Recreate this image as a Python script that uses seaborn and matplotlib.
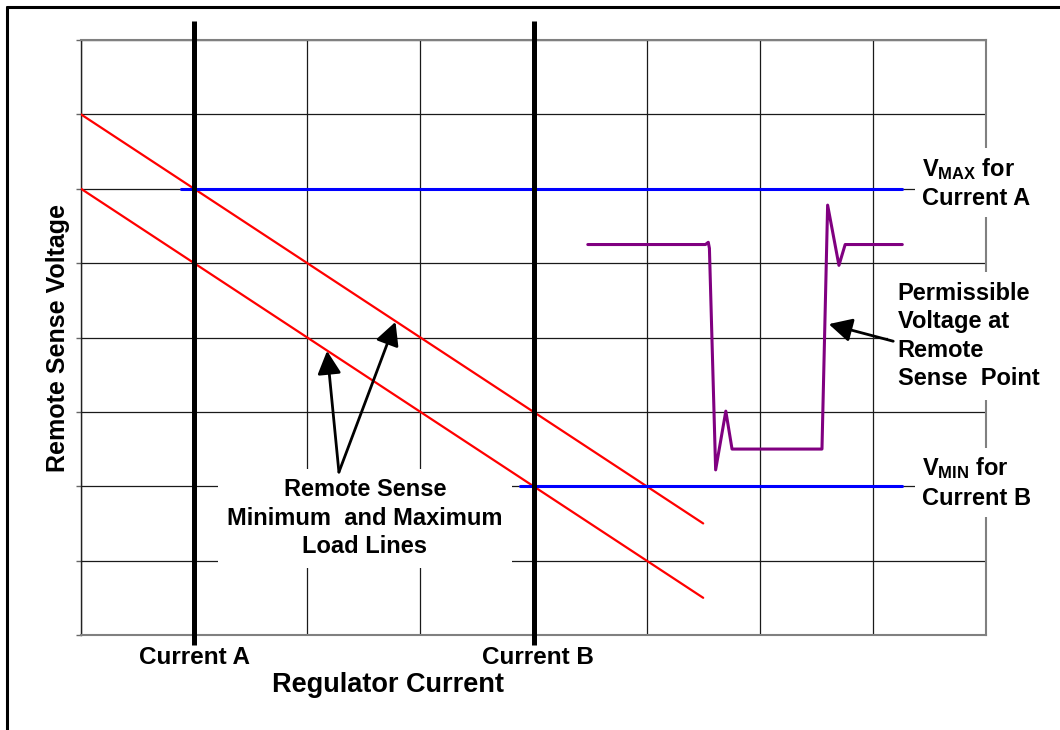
import matplotlib.pyplot as plt
import pandas as pd
import seaborn as sns
from matplotlib.lines import Line2D

sns.set_theme(style="white")
plt.rcParams["font.family"] = ["Liberation Sans", "DejaVu Sans"]
plt.rcParams["font.weight"] = "bold"
plt.rcParams["text.color"] = "black"
plt.rcParams["mathtext.fontset"] = "custom"
plt.rcParams["mathtext.rm"] = "Liberation Sans:bold"
plt.rcParams["mathtext.it"] = "Liberation Sans:bold"
plt.rcParams["mathtext.bf"] = "Liberation Sans:bold"

# grid units: x = regulator current, y = remote sense voltage (0..8 each)
grid_ticks = list(range(9))

# min / max load lines
load_x = [0.0, 5.5]
load_max_y = [7.0, 1.5]
load_min_y = [6.0, 0.5]

# the two operating currents
current_a = 1.0
current_b = 4.0
marker_span = [-0.13, 8.25]

# voltage limits
vmax_x = [0.88, 7.26]
vmax_y = 6.0
vmin_x = [3.88, 7.26]
vmin_y = 2.0

# permissible voltage trace at the remote sense point
trace_x = [4.48, 5.52, 5.545, 5.555, 5.61, 5.70, 5.755, 6.55, 6.60, 6.70, 6.755, 7.26]
trace_y = [5.25, 5.25, 5.28, 5.20, 2.22, 3.01, 2.50, 2.50, 5.78, 4.97, 5.25, 5.25]

loads = pd.DataFrame({
    "x": load_x * 2,
    "y": load_max_y + load_min_y,
    "line": ["max"] * 2 + ["min"] * 2,
})
trace = pd.DataFrame({"x": trace_x, "y": trace_y})

fig = plt.figure(figsize=(10.6, 7.3), dpi=100)
ax = fig.add_axes([81 / 1060, 1 - 635 / 730, 905 / 1060, 595 / 730])
ax.set_xlim(0, 8)
ax.set_ylim(0, 8)
ax.set_xticks(grid_ticks)
ax.set_yticks(grid_ticks)
ax.set_xticklabels([])
ax.set_yticklabels([])
ax.grid(True, color="#1a1a1a", linewidth=0.9, zorder=0)
ax.set_axisbelow(True)
ax.tick_params(axis="x", length=0)
ax.tick_params(axis="y", length=3.6, width=1, color="#666666", direction="out", left=True)
for side, sp in ax.spines.items():
    sp.set_color("#808080")
    sp.set_linewidth(1.5)
ax.spines["left"].set_color("#222222")
ax.spines["left"].set_linewidth(1.0)

sns.lineplot(data=loads, x="x", y="y", units="line", estimator=None,
             color="#ff0000", linewidth=1.6, ax=ax, zorder=4)
sns.lineplot(data=trace, x="x", y="y", sort=False, estimator=None,
             color="#800080", linewidth=2.2, ax=ax, zorder=4)
ax.plot(vmax_x, [vmax_y] * 2, color="#0000ff", linewidth=2.2, zorder=4)
ax.plot(vmin_x, [vmin_y] * 2, color="#0000ff", linewidth=2.2, zorder=4)
for cx in (current_a, current_b):
    ax.plot([cx, cx], marker_span, color="black", linewidth=3.6,
            zorder=5, clip_on=False, solid_capstyle="butt")
ax.set_xlabel("")
ax.set_ylabel("")

txt = dict(fontsize=17, fontweight="bold", color="black", zorder=3)

ax.text(2.51, 1.57, "Remote Sense\nMinimum  and Maximum\nLoad Lines",
        ha="center", va="center", linespacing=1.3,
        bbox=dict(facecolor="white", edgecolor="none", pad=7), **txt)
ax.text(7.43, 6.08, "$\\mathrm{V_{MAX}}$ for\nCurrent A", ha="left", va="center",
        linespacing=1.3, bbox=dict(facecolor="white", edgecolor="none", pad=5),
        clip_on=False, **txt)
ax.text(7.22, 4.02, "Permissible\nVoltage at\nRemote\nSense  Point", ha="left",
        va="center", linespacing=1.3,
        bbox=dict(facecolor="white", edgecolor="none", pad=7), clip_on=False, **txt)
ax.text(7.43, 2.05, "$\\mathrm{V_{MIN}}$ for\nCurrent B", ha="left", va="center",
        linespacing=1.3, bbox=dict(facecolor="white", edgecolor="none", pad=5),
        clip_on=False, **txt)

arrow = dict(arrowstyle="-|>,head_length=0.7,head_width=0.36", color="black",
             linewidth=2.0, mutation_scale=20, shrinkA=0, shrinkB=0)
ax.annotate("", xy=(2.175, 3.82), xytext=(2.28, 2.19), arrowprops=arrow, zorder=6)
ax.annotate("", xy=(2.78, 4.21), xytext=(2.28, 2.19), arrowprops=arrow, zorder=6)
ax.annotate("", xy=(6.61, 4.18), xytext=(7.18, 3.95), arrowprops=arrow, zorder=6)

ax.text(current_a, -0.3, "Current A", ha="center", va="center", fontsize=17.5,
        fontweight="bold", clip_on=False)
ax.text(current_b + 0.04, -0.3, "Current B", ha="center", va="center", fontsize=17.5,
        fontweight="bold", clip_on=False)
ax.text(2.71, -0.67, "Regulator Current", ha="center", va="center", fontsize=19.5,
        fontweight="bold", clip_on=False)
ax.text(-0.2, 4.0, "Remote Sense Voltage", ha="center", va="center", rotation=90,
        fontsize=18, fontweight="bold", clip_on=False)

# outer frame (left and top edges only)
fig.add_artist(Line2D([7 / 1060, 7 / 1060], [0, 1 - 7 / 730], color="black",
                      linewidth=2.2, transform=fig.transFigure))
fig.add_artist(Line2D([7 / 1060, 1], [1 - 7 / 730, 1 - 7 / 730], color="black",
                      linewidth=2.2, transform=fig.transFigure))

fig.savefig("out.png", dpi=100)
